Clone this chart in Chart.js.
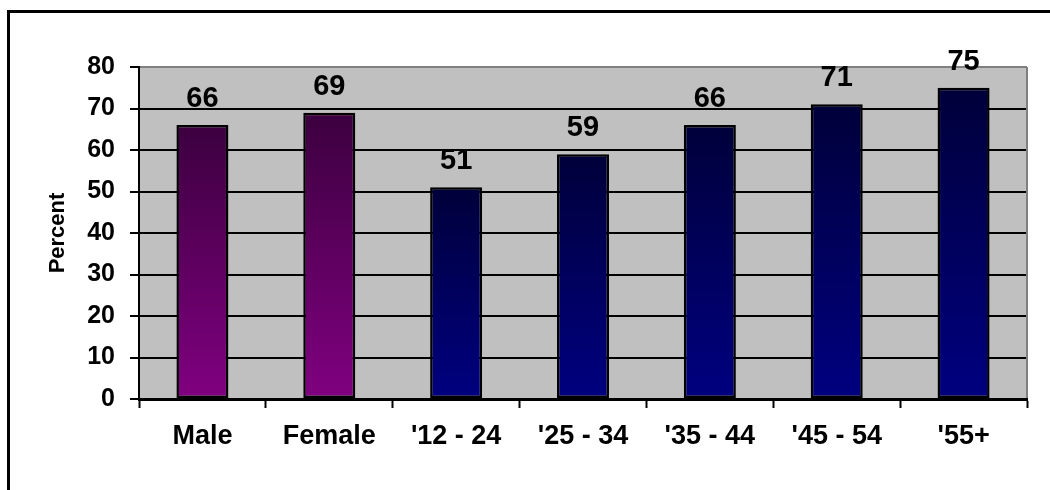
<!DOCTYPE html>
<html>
<head>
<meta charset="utf-8">
<script src="https://cdn.jsdelivr.net/npm/chart.js@4/dist/chart.umd.min.js"></script>
<style>
    html, body { margin: 0; padding: 0; background: #fff; }
    #wrap { width: 1050px; height: 490px; }
</style>
</head>
<body>
<div id="wrap"><canvas id="chart" width="1050" height="490"></canvas></div>
<script>
// Datos del grafico
const categories = ['Male', 'Female', "'12 - 24", "'25 - 34", "'35 - 44", "'45 - 54", "'55+"];
const percentValues = [66, 69, 51, 59, 66, 71, 75];
const barGroup = ['gender', 'gender', 'age', 'age', 'age', 'age', 'age'];
const yMin = 0;
const yMax = 80;
const yStep = 10;
const yTitle = 'Percent';

// Colores del degradado (arriba -> abajo) por grupo
const groupColors = {
    gender: ['#3c003f', '#800080'],
    age: ['#00003a', '#000080']
};

Chart.defaults.font.family = 'Arial, "Liberation Sans", sans-serif';
Chart.defaults.font.weight = 'bold';
Chart.defaults.color = '#000';

// Degradado vertical para cada barra
function barGradient(context) {
    const chart = context.chart;
    const group = barGroup[context.dataIndex] || 'gender';
    const [top, bottom] = groupColors[group];
    if (!chart.chartArea || !chart.scales.y) return bottom;
    const yScale = chart.scales.y;
    const yTop = yScale.getPixelForValue(percentValues[context.dataIndex]);
    const yBottom = yScale.getPixelForValue(0);
    const g = chart.ctx.createLinearGradient(0, yTop, 0, yBottom);
    g.addColorStop(0, top);
    g.addColorStop(1, bottom);
    return g;
}

// Fondo, marco exterior y area gris
const backgroundPlugin = {
    id: 'backgroundPlugin',
    beforeDraw(chart) {
        const { ctx, chartArea } = chart;
        ctx.save();
        ctx.fillStyle = '#fff';
        ctx.fillRect(0, 0, chart.width, chart.height);
        ctx.strokeStyle = '#000';
        ctx.lineWidth = 3;
        ctx.beginPath();
        ctx.moveTo(8.5, chart.height + 5);
        ctx.lineTo(8.5, 11.5);
        ctx.lineTo(chart.width + 5, 11.5);
        ctx.stroke();
        ctx.fillStyle = '#c0c0c0';
        ctx.fillRect(chartArea.left, chartArea.top, chartArea.right - chartArea.left, chartArea.bottom - chartArea.top);
        ctx.restore();
    },
    beforeDatasetsDraw(chart) {
        const { ctx, chartArea } = chart;
        ctx.save();
        ctx.strokeStyle = '#808080';
        ctx.lineWidth = 2;
        ctx.beginPath();
        ctx.moveTo(chartArea.right, chartArea.top);
        ctx.lineTo(chartArea.right, chartArea.bottom - 1);
        ctx.stroke();
        ctx.restore();
    }
};

// Etiquetas de valor encima de las barras
const valueLabels = {
    id: 'valueLabels',
    afterDatasetsDraw(chart) {
        const { ctx } = chart;
        const meta = chart.getDatasetMeta(0);
        ctx.save();
        ctx.fillStyle = '#000';
        ctx.font = 'bold 29px Arial, "Liberation Sans", sans-serif';
        ctx.textAlign = 'center';
        ctx.textBaseline = 'alphabetic';
        meta.data.forEach((bar, i) => {
            ctx.fillText(String(percentValues[i]), bar.x, bar.y - 18);
        });
        ctx.restore();
    }
};

const ctx = document.getElementById('chart').getContext('2d');
new Chart(ctx, {
    type: 'bar',
    data: {
        labels: categories,
        datasets: [{
            label: yTitle,
            data: percentValues,
            backgroundColor: barGradient,
            borderColor: '#000',
            borderWidth: 2.5,
            borderSkipped: false,
            barPercentage: 0.41,
            categoryPercentage: 1
        }]
    },
    options: {
        responsive: false,
        devicePixelRatio: 1,
        animation: false,
        layout: { padding: { left: 0, top: 67, right: 23, bottom: 0 } },
        plugins: {
            legend: { display: false },
            tooltip: { enabled: false }
        },
        scales: {
            x: {
                afterFit(scale) { scale.height = 91; },
                ticks: { padding: 12, font: { size: 27, weight: 'bold' }, color: '#000', maxRotation: 0, autoSkip: false },
                grid: { drawOnChartArea: false, offset: true, tickLength: 9, tickColor: '#000', tickWidth: 2, color: '#000' },
                border: { color: '#000', width: 3 }
            },
            y: {
                min: yMin,
                max: yMax,
                afterFit(scale) { scale.width = 139; },
                ticks: { stepSize: yStep, padding: 15, font: { size: 25, weight: 'bold' }, color: '#000' },
                grid: {
                    color: (c) => (c.tick && c.tick.value === yMax ? '#808080' : '#000'),
                    lineWidth: 2,
                    tickColor: '#000',
                    tickWidth: 2,
                    tickLength: 9
                },
                border: { color: '#000', width: 2 },
                title: { display: true, text: yTitle, font: { size: 22, weight: 'bold' }, color: '#000', padding: { top: 45 } }
            }
        }
    },
    plugins: [backgroundPlugin, valueLabels]
});
</script>
</body>
</html>
